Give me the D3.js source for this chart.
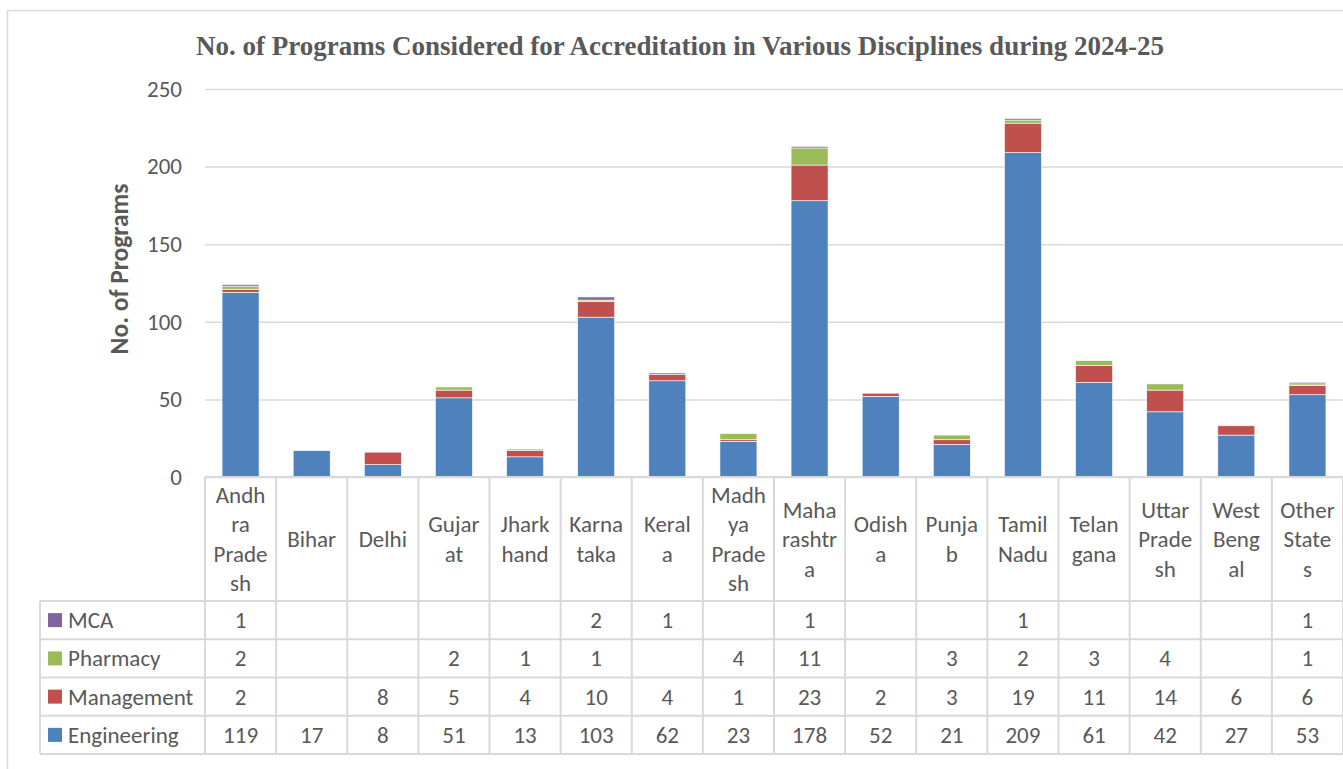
<!DOCTYPE html>
<html>
  <head>
    <meta charset="utf-8" />
    <title>Programs Considered for Accreditation 2024-25</title>
    <style>
      html, body {
        margin: 0;
        padding: 0;
        background: white;
        overflow: hidden;
      }
      svg text {
        fill: #595959;
      }
    </style>
  </head>
  <body>
    <script src="https://d3js.org/d3.v7.min.js"></script>
    <script>
      var w = 1343;
      var h = 769;

      // data
      var categories = ["Andhra Pradesh", "Bihar", "Delhi", "Gujarat", "Jharkhand", "Karnataka", "Kerala",
        "Madhya Pradesh", "Maharashtra", "Odisha", "Punjab", "Tamil Nadu", "Telangana", "Uttar Pradesh",
        "West Bengal", "Other States"];
      // wrapped header labels as shown in the table
      var categoryLines = [["Andh", "ra", "Prade", "sh"], ["Bihar"], ["Delhi"], ["Gujar", "at"], ["Jhark", "hand"],
        ["Karna", "taka"], ["Keral", "a"], ["Madh", "ya", "Prade", "sh"], ["Maha", "rashtr", "a"], ["Odish", "a"],
        ["Punja", "b"], ["Tamil", "Nadu"], ["Telan", "gana"], ["Uttar", "Prade", "sh"], ["West", "Beng", "al"],
        ["Other", "State", "s"]];
      var engineering = [119, 17, 8, 51, 13, 103, 62, 23, 178, 52, 21, 209, 61, 42, 27, 53];
      var management  = [2, null, 8, 5, 4, 10, 4, 1, 23, 2, 3, 19, 11, 14, 6, 6];
      var pharmacy    = [2, null, null, 2, 1, 1, null, 4, 11, null, 3, 2, 3, 4, null, 1];
      var mca         = [1, null, null, null, null, 2, 1, null, 1, null, null, 1, null, null, null, 1];
      var yTicks = [0, 50, 100, 150, 200, 250];

      var series = [
        { name: "Engineering", values: engineering, color: "#4f81bd" },
        { name: "Management", values: management, color: "#c0504d" },
        { name: "Pharmacy", values: pharmacy, color: "#9bbb59" },
        { name: "MCA", values: mca, color: "#8064a2" }
      ];

      var font = "Carlito, Lato, sans-serif";
      var fontSize = "23px";
      var gridColor = "#d9d9d9";

      var plotLeft = 205, plotRight = 1343;
      var plotTop = 89, plotBottom = 477;
      var headerBottom = 601, tableBottom = 754;
      var legendLeft = 40;

      var svg = d3.select("body").append("svg")
        .attr("width", w)
        .attr("height", h);

      // chart frame
      svg.append("path")
        .attr("d", "M7.5," + h + " V10.5 H" + w)
        .attr("fill", "none")
        .attr("stroke", gridColor)
        .attr("stroke-width", 1.5);

      var x = d3.scaleBand()
        .domain(categories)
        .range([plotLeft, plotRight])
        .padding(0);

      var y = d3.scaleLinear()
        .domain([0, 250])
        .range([plotBottom, plotTop]);

      // gridlines + tick labels
      var yAxis = d3.axisLeft(y)
        .tickValues(yTicks)
        .tickSize(-(plotRight - plotLeft))
        .tickPadding(23);

      var gy = svg.append("g")
        .attr("transform", "translate(" + plotLeft + ",0)")
        .call(yAxis);
      gy.select(".domain").remove();
      gy.selectAll(".tick line")
        .attr("stroke", gridColor)
        .attr("stroke-width", 1.5);
      gy.selectAll(".tick text")
        .style("font-family", font)
        .style("font-size", fontSize)
        .attr("fill", "#595959");

      // stacked bars
      var stackData = categories.map(function (c, i) {
        var row = { cat: c };
        series.forEach(function (s) { row[s.name] = s.values[i] || 0; });
        return row;
      });
      var stack = d3.stack().keys(series.map(function (s) { return s.name; }));
      var layers = stack(stackData);

      var barW = x.bandwidth() * 0.52;

      svg.selectAll(".layer")
        .data(layers)
        .enter()
        .append("g")
        .attr("class", "layer")
        .attr("fill", function (d, i) { return series[i].color; })
        .selectAll("rect")
        .data(function (d) { return d; })
        .enter()
        .append("rect")
        .attr("x", function (d) { return x(d.data.cat) + (x.bandwidth() - barW) / 2; })
        .attr("y", function (d) { return y(d[1]); })
        .attr("width", barW)
        .attr("height", function (d) { return Math.max(0, y(d[0]) - y(d[1])); })
        .attr("stroke", "white")
        .attr("stroke-width", 0.6);

      // data table
      var table = svg.append("g");
      var rowOrder = ["MCA", "Pharmacy", "Management", "Engineering"];
      var rowH = (tableBottom - headerBottom) / rowOrder.length;

      // horizontal lines
      table.append("line")
        .attr("x1", plotLeft).attr("x2", plotRight)
        .attr("y1", plotBottom).attr("y2", plotBottom)
        .attr("stroke", gridColor).attr("stroke-width", 2);
      d3.range(rowOrder.length + 1).forEach(function (r) {
        var yy = headerBottom + r * rowH;
        table.append("line")
          .attr("x1", legendLeft).attr("x2", plotRight)
          .attr("y1", yy).attr("y2", yy)
          .attr("stroke", gridColor).attr("stroke-width", 2);
      });
      // vertical lines
      table.append("line")
        .attr("x1", legendLeft).attr("x2", legendLeft)
        .attr("y1", headerBottom).attr("y2", tableBottom)
        .attr("stroke", gridColor).attr("stroke-width", 2);
      categories.concat([null]).forEach(function (c, i) {
        var xx = c ? x(c) : plotRight;
        table.append("line")
          .attr("x1", xx).attr("x2", xx)
          .attr("y1", plotBottom).attr("y2", tableBottom)
          .attr("stroke", gridColor).attr("stroke-width", 2);
      });

      // header labels
      var lineH = 29.5;
      var headerMid = (plotBottom + headerBottom) / 2;
      categories.forEach(function (c, i) {
        var lines = categoryLines[i];
        var t = table.append("text")
          .attr("text-anchor", "middle")
          .style("font-family", font)
          .style("font-size", fontSize);
        lines.forEach(function (l, j) {
          t.append("tspan")
            .attr("x", x(c) + x.bandwidth() / 2)
            .attr("y", headerMid + (j - (lines.length - 1) / 2) * lineH + 8)
            .text(l);
        });
      });

      // rows
      rowOrder.forEach(function (name, r) {
        var s = series.filter(function (d) { return d.name === name; })[0];
        var cy = headerBottom + r * rowH + rowH / 2;
        table.append("rect")
          .attr("x", 48).attr("y", cy - 7)
          .attr("width", 14).attr("height", 14)
          .attr("fill", s.color);
        table.append("text")
          .attr("x", 68).attr("y", cy + 8)
          .style("font-family", font)
          .style("font-size", fontSize)
          .text(name);
        categories.forEach(function (c, i) {
          if (s.values[i] == null) return;
          table.append("text")
            .attr("x", x(c) + x.bandwidth() / 2)
            .attr("y", cy + 8)
            .attr("text-anchor", "middle")
            .style("font-family", font)
            .style("font-size", fontSize)
            .text(s.values[i]);
        });
      });

      // titles
      svg.append("text")
        .attr("x", 680)
        .attr("y", 55)
        .attr("text-anchor", "middle")
        .style("font-family", "'Liberation Serif', 'Times New Roman', serif")
        .style("font-weight", "bold")
        .style("font-size", "27px")
        .text("No. of Programs Considered for Accreditation in Various Disciplines during 2024-25");

      svg.append("text")
        .attr("transform", "translate(128,269) rotate(-90)")
        .attr("text-anchor", "middle")
        .style("font-family", font)
        .style("font-weight", "bold")
        .style("font-size", "25.5px")
        .text("No. of Programs");
    </script>
  </body>
</html>
